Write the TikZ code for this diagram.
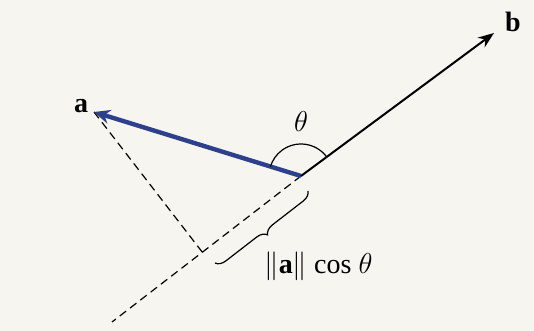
\documentclass[tikz,border=0pt]{standalone}
\usepackage{fontspec}
\setmainfont{Liberation Serif}
\usetikzlibrary{arrows.meta,decorations.pathreplacing,calc}
\definecolor{bgc}{RGB}{247,245,239}
\definecolor{avec}{RGB}{45,64,140}
\begin{document}
\begin{tikzpicture}[x=0.5pt,y=-0.5pt,
  lbl/.style={font=\fontsize{14}{16}\selectfont, inner sep=1pt},
  vecb/.style={line width=1pt, -{Stealth[length=8pt,width=6pt]}},
  veca/.style={line width=2.2pt, draw=avec, -{Stealth[length=8pt,width=7pt]}},
  guide/.style={dash pattern=on 4pt off 2.5pt, line width=0.6pt},
  thin line/.style={line width=0.6pt}]
\fill[bgc] (0,0) rectangle (534,331);
\useasboundingbox (0,0) rectangle (534,331);
\coordinate (O) at (301,176);
\coordinate (Bt) at (494,33);
\coordinate (At) at (94,112);
\coordinate (E) at (112,322);
\node[lbl] (bl) at (513,22) {\textbf{b}};
\node[lbl] (al) at (81,106) {\textbf{a}};
% dashed extension and perpendicular
\draw[guide] (O) -- (E);
\coordinate (F) at ($(O)!(At)!(E)$);
\draw[guide] (At) -- (F);
% vectors
\draw[veca] (O) -- (At);
\draw[vecb] (O) -- (Bt);
% angle arc
\draw[thin line] (O) ++(36.7:16pt) arc[start angle=36.7, end angle=162.8, radius=16pt];
\node[lbl] (th) at (301,122) {$\theta$};
% brace
\coordinate (Bu) at (308,191);
\coordinate (Bl) at (215,263);
\draw[thin line, decorate, decoration={brace, amplitude=5pt}] (Bu) -- (Bl);
\node[lbl, anchor=base west] (cl) at (262,273) {$\|$\textbf{a}$\|$ cos $\theta$};
\end{tikzpicture}
\end{document}
